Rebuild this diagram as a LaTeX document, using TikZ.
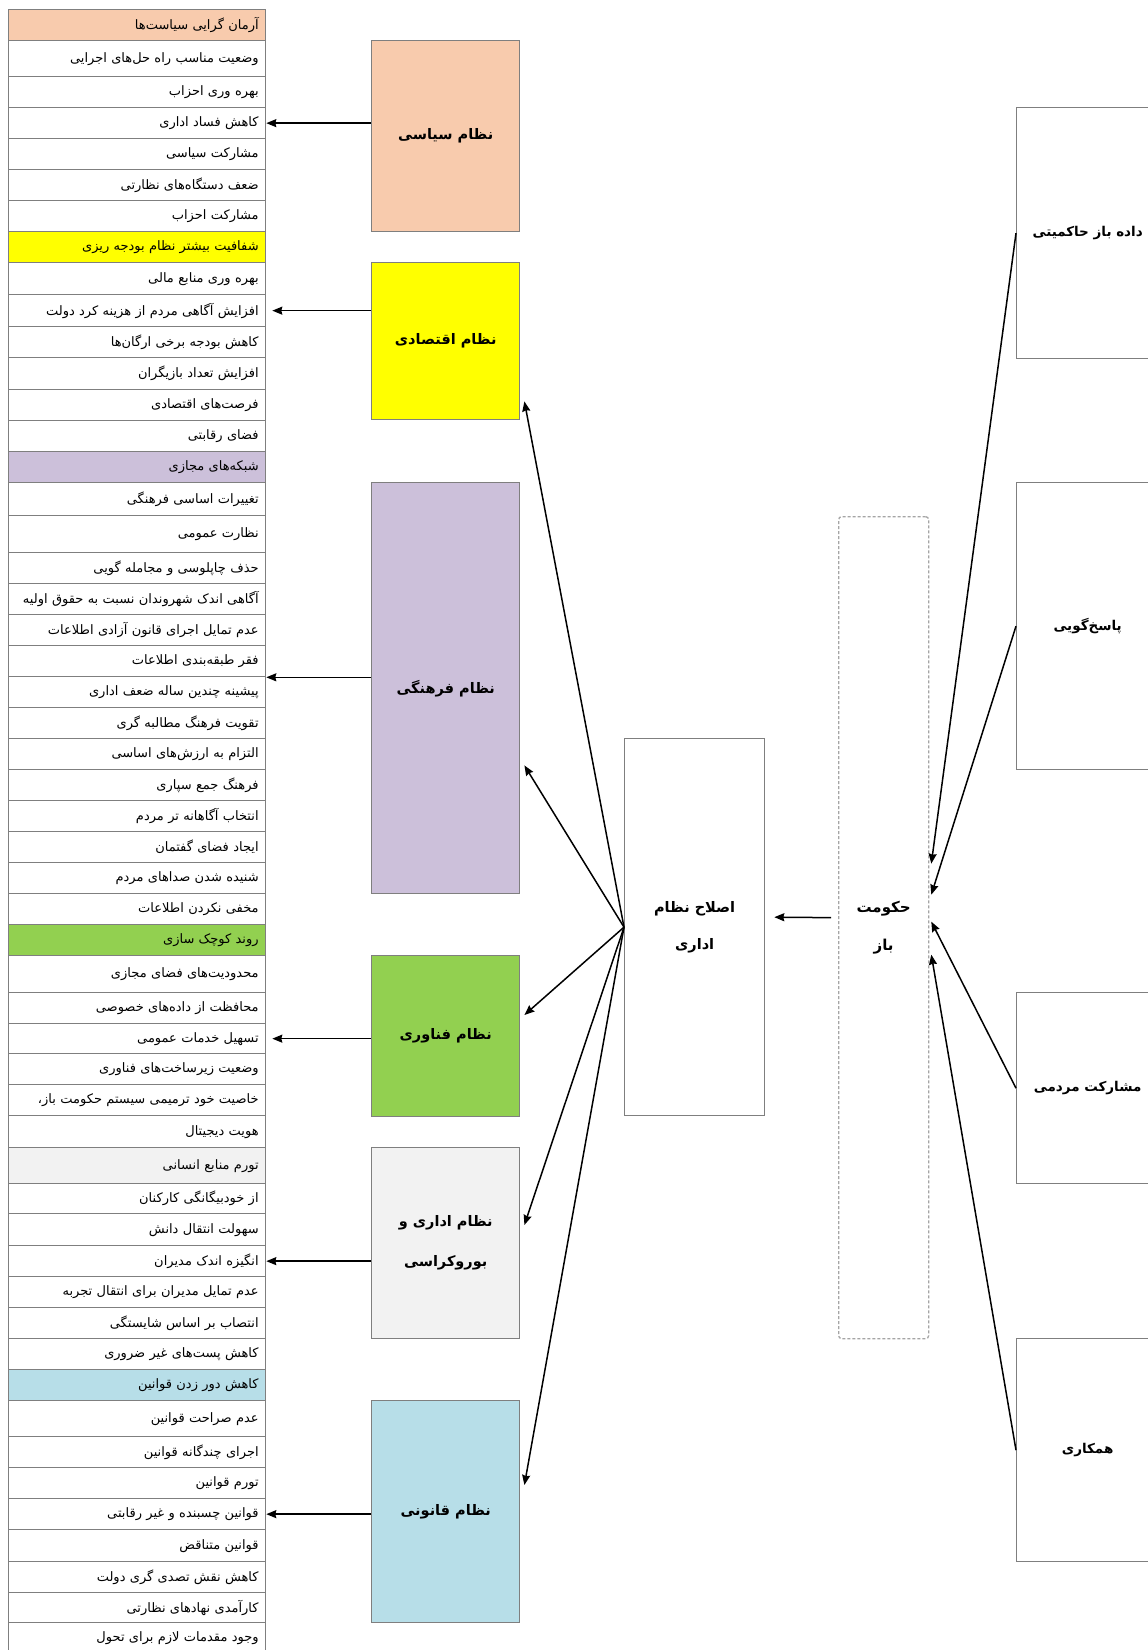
\documentclass[tikz,border=0pt]{standalone}
\usepackage{fontspec}
\usetikzlibrary{arrows.meta}
\newfontfamily\fa[Script=Arabic]{DejaVu Sans}
\TeXXeTstate=1
\definecolor{polc}{HTML}{F8CBAD}
\definecolor{ecoc}{HTML}{FFFF00}
\definecolor{culc}{HTML}{CCC0DA}
\definecolor{tecc}{HTML}{92D050}
\definecolor{admc}{HTML}{F2F2F2}
\definecolor{lawc}{HTML}{B7DEE8}
\definecolor{linec}{HTML}{7F7F7F}
\begin{document}
\begin{tikzpicture}[x=1pt, y=-1pt, >={Stealth[length=10pt,width=8pt,inset=1pt]},
	cell/.style={draw=linec, line width=1.3pt, anchor=north west, minimum width=257pt, inner xsep=7pt, inner ysep=0pt, text width=243pt, align=right, font=\fa\fontsize{13}{15}\selectfont},
	sys/.style={draw=linec, line width=1.4pt, anchor=north west, minimum width=148pt, align=center, font=\fa\bfseries\fontsize{14.5}{40}\selectfont},
	dim/.style={draw=linec, line width=1.3pt, anchor=north west, minimum width=142pt, align=center, font=\fa\bfseries\fontsize{13.5}{18}\selectfont},
	arr/.style={->, line width=1.5pt}]
	\useasboundingbox (0,0) rectangle (1148,1650);
	\fill[white] (0,0) rectangle (1148,1650);
	% left column of indicators
	\foreach \t/\b/\c/\s [count=\i] in {
		9/40/polc/آرمان گرایی سیاست‌ها, 40/76/white/وضعیت مناسب راه حل‌های اجرایی, 76/107/white/بهره وری احزاب,
		107/138/white/کاهش فساد اداری, 138/169/white/مشارکت سیاسی, 169/200/white/ضعف دستگاه‌های نظارتی,
		200/231/white/مشارکت احزاب, 231/262/ecoc/شفافیت بیشتر نظام بودجه ریزی, 262/294/white/بهره وری منابع مالی,
		294/326/white/افزایش آگاهی مردم از هزینه کرد دولت, 326/357/white/کاهش بودجه برخی ارگان‌ها,
		357/389/white/افزایش تعداد بازیگران, 389/420/white/فرصت‌های اقتصادی, 420/451/white/فضای رقابتی,
		451/482/culc/شبکه‌های مجازی, 482/515/white/تغییرات اساسی فرهنگی, 515/552/white/نظارت عمومی,
		552/583/white/حذف چاپلوسی و مجامله گویی, 583/614/white/آگاهی اندک شهروندان نسبت به حقوق اولیه,
		614/645/white/عدم تمایل اجرای قانون آزادی اطلاعات, 645/676/white/فقر طبقه‌بندی اطلاعات,
		676/707/white/پیشینه چندین ساله ضعف اداری, 707/738/white/تقویت فرهنگ مطالبه گری,
		738/769/white/التزام به ارزش‌های اساسی, 769/800/white/فرهنگ جمع سپاری, 800/831/white/انتخاب آگاهانه تر مردم,
		831/862/white/ایجاد فضای گفتمان, 862/893/white/شنیده شدن صداهای مردم, 893/924/white/مخفی نکردن اطلاعات,
		924/955/tecc/روند کوچک سازی, 955/992/white/محدودیت‌های فضای مجازی, 992/1023/white/محافظت از داده‌های خصوصی,
		1023/1053/white/تسهیل خدمات عمومی, 1053/1084/white/وضعیت زیرساخت‌های فناوری,
		1084/1115/white/خاصیت خود ترمیمی سیستم حکومت باز،, 1115/1147/white/هویت دیجیتال,
		1147/1183/admc/تورم منابع انسانی, 1183/1213/white/از خودبیگانگی کارکنان, 1213/1245/white/سهولت انتقال دانش,
		1245/1276/white/انگیزه اندک مدیران, 1276/1307/white/عدم تمایل مدیران برای انتقال تجربه,
		1307/1338/white/انتصاب بر اساس شایستگی, 1338/1369/white/کاهش پست‌های غیر ضروری,
		1369/1400/lawc/کاهش دور زدن قوانین, 1400/1436/white/عدم صراحت قوانین, 1436/1467/white/اجرای چندگانه قوانین,
		1467/1498/white/تورم قوانین, 1498/1529/white/قوانین چسبنده و غیر رقابتی, 1529/1561/white/قوانین متناقض,
		1561/1592/white/کاهش نقش تصدی گری دولت, 1592/1622/white/کارآمدی نهادهای نظارتی,
		1622/1652/white/وجود مقدمات لازم برای تحول}{
		\pgfmathsetmacro\h{\b-\t}
		\node[cell, fill=\c, minimum height=\h pt] (r\i) at (8,\t) {\beginR\s\endR};
	}
	% systems
	\node[sys, fill=polc, minimum height=191pt] (pol) at (371,40) {\beginR نظام سیاسی\endR};
	\node[sys, fill=ecoc, minimum height=157pt] (eco) at (371,262) {\beginR نظام اقتصادی\endR};
	\node[sys, fill=culc, minimum height=411pt] (cul) at (371,482) {\beginR نظام فرهنگی\endR};
	\node[sys, fill=tecc, minimum height=161pt] (tec) at (371,955) {\beginR نظام فناوری\endR};
	\node[sys, fill=admc, minimum height=191pt] (adm) at (371,1147) {\beginR نظام اداری و\endR\\\beginR بوروکراسی\endR};
	\node[sys, fill=lawc, minimum height=222pt] (law) at (371,1400) {\beginR نظام قانونی\endR};
	\node[sys, minimum width=140pt, minimum height=377pt, line width=1.3pt, font=\fa\bfseries\fontsize{14.5}{37}\selectfont] (ref) at (624,738) {\beginR اصلاح نظام\endR\\\beginR اداری\endR};
	\node[sys, draw=linec!70, dash pattern=on 3pt off 2pt, rounded corners=3pt, minimum width=90pt, minimum height=822pt, line width=1.3pt, font=\fa\bfseries\fontsize{15}{38}\selectfont] (gov) at (838,516) {\beginR حکومت\endR\\\beginR باز\endR};
	% dimensions of open government
	\node[dim, minimum height=251pt] (ogd) at (1016,107) {\beginR داده باز حاکمیتی\endR};
	\node[dim, minimum height=287pt] (acc) at (1016,482) {\beginR پاسخ‌گویی\endR};
	\node[dim, minimum height=191pt] (par) at (1016,992) {\beginR مشارکت مردمی\endR};
	\node[dim, minimum height=223pt] (col) at (1016,1338) {\beginR همکاری\endR};
	% arrows
	\draw[arr] (pol.west |- r4.east) -- (r4.east);
	\draw[arr, shorten >=6pt] (eco.west |- r10.east) -- (r10.east);
	\draw[arr] (cul.west |- r21.south east) -- (r21.south east);
	\draw[arr, shorten >=6pt] (tec.west |- r33.east) -- (r33.east);
	\draw[arr] (adm.west |- r40.east) -- (r40.east);
	\draw[arr] (law.west |- r48.east) -- (r48.east);
	\draw[arr] (ref.west) -- ([shift={(4,-19)}]eco.south east);
	\draw[arr] (ref.west) -- ([shift={(4,-129)}]cul.south east);
	\draw[arr] (ref.west) -- ([shift={(4,60)}]tec.north east);
	\draw[arr] (ref.west) -- ([shift={(4,78)}]adm.north east);
	\draw[arr] (ref.west) -- ([shift={(4,85)}]law.north east);
	\draw[arr] ([shift={(-7,-10)}]gov.west) -- ([shift={(9,-10)}]ref.east);
	\draw[arr] (ogd.west) -- ([shift={(2,-64)}]gov.east);
	\draw[arr] (acc.west) -- ([shift={(2,-33)}]gov.east);
	\draw[arr] (par.west) -- ([shift={(2,-6)}]gov.east);
	\draw[arr] (col.west) -- ([shift={(2,27)}]gov.east);
\end{tikzpicture}
\end{document}
